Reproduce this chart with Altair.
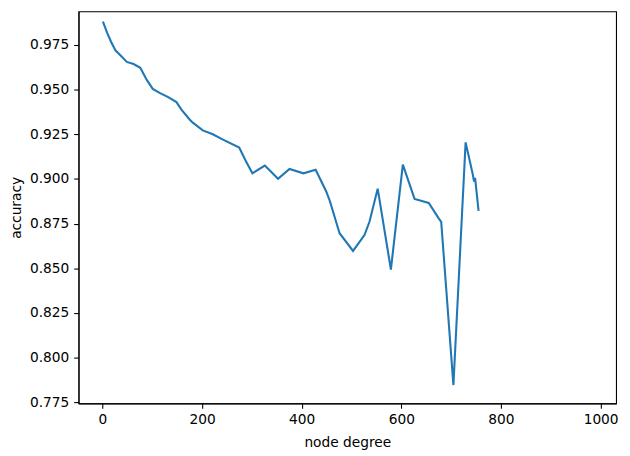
import altair as alt
import pandas as pd

node_degree = [1, 9.5, 17.5, 26, 33, 49, 62.5, 76, 89, 101, 115.6, 132, 148.5, 158.5,
               175, 182, 201.5, 221.5, 241, 274.5, 287.5, 301, 326, 352.5, 375.5,
               403.5, 428, 449, 456, 476, 503, 526, 536, 552.5, 579, 603, 626.5,
               655, 675, 680, 704.5, 729, 743, 746, 748, 755]
accuracy = [0.9879, 0.9816, 0.9765, 0.9719, 0.9700, 0.9654, 0.9642, 0.9621, 0.9553,
            0.9503, 0.9479, 0.9457, 0.9429, 0.9387, 0.9332, 0.9313, 0.9271, 0.9249,
            0.9221, 0.9175, 0.9101, 0.9031, 0.9074, 0.9000, 0.9055, 0.9031, 0.9051,
            0.8931, 0.8880, 0.8696, 0.8597, 0.8686, 0.8760, 0.8945, 0.8493, 0.9080,
            0.8888, 0.8865, 0.8779, 0.8760, 0.7847, 0.9204, 0.9030, 0.8985, 0.9005,
            0.8821]

x_ticks = [0, 200, 400, 600, 800, 1000]
y_ticks = [0.775, 0.800, 0.825, 0.850, 0.875, 0.900, 0.925, 0.950, 0.975]

df = pd.DataFrame({"node degree": node_degree, "accuracy": accuracy, "order": list(range(len(node_degree)))})

FONT = "DejaVu Sans"
FS = 13.9

chart = alt.Chart(df).mark_line(color="#1f77b4", strokeWidth=2.1).encode(
    x=alt.X("node degree:Q",
            scale=alt.Scale(domain=[-48, 1031], nice=False, zero=False),
            axis=alt.Axis(values=x_ticks, format="d", title="node degree", titlePadding=9)),
    y=alt.Y("accuracy:Q",
            scale=alt.Scale(domain=[0.77445, 0.99364], nice=False, zero=False),
            axis=alt.Axis(values=y_ticks, format=".3f", title="accuracy", titlePadding=6)),
    order="order:Q",
).properties(
    width=543.4,
    height=396.3,
    autosize=alt.AutoSizeParams(type="none"),
    padding={"left": 71.3, "top": 1, "right": 6, "bottom": 45},
).configure_view(
    stroke="black", strokeWidth=1.1
).configure_axis(
    grid=False,
    domainColor="black", domainWidth=1.1,
    tickColor="black", tickWidth=1.1, tickSize=4.9,
    labelPadding=4.9, labelFont=FONT, labelFontSize=FS, labelColor="black",
    titleFont=FONT, titleFontSize=FS, titleFontWeight="normal", titleColor="black",
)

chart.save("out.html", embed_options={"renderer": "svg", "actions": False})
